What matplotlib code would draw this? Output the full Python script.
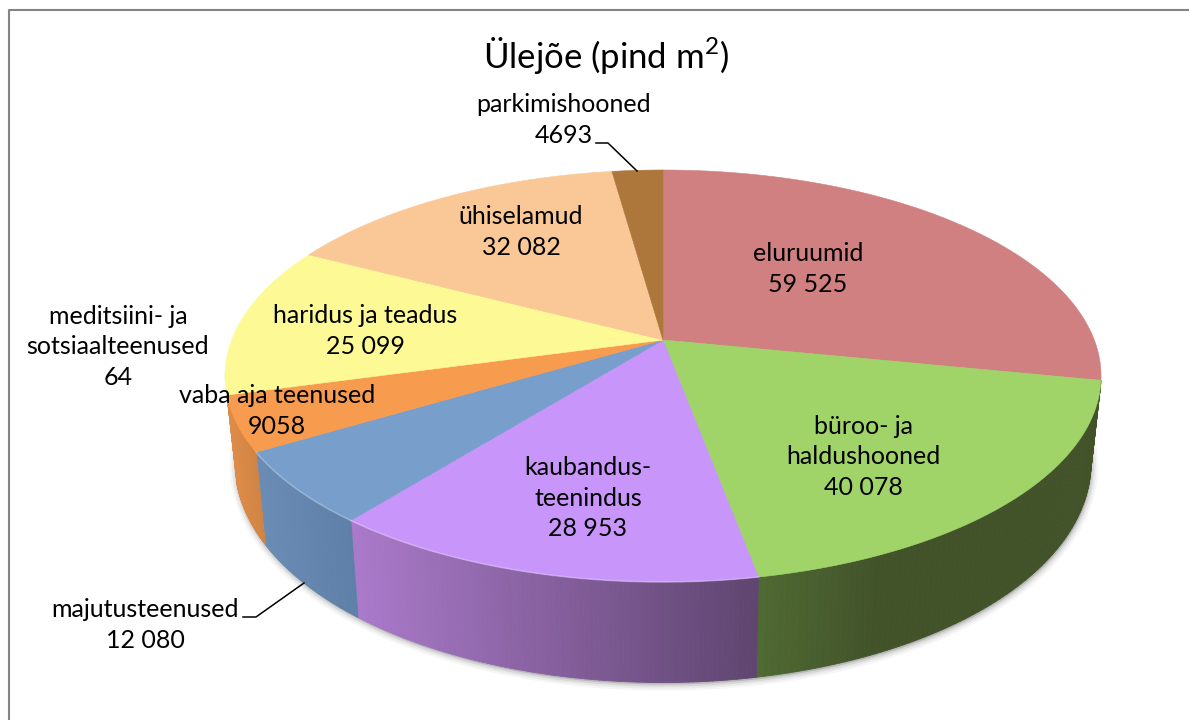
import matplotlib
matplotlib.use("Agg")
import matplotlib.pyplot as plt
from matplotlib.collections import PolyCollection
from matplotlib.colors import to_rgb
import numpy as np

plt.rcParams['font.family'] = ['Lato', 'DejaVu Sans']
plt.rcParams['mathtext.fontset'] = 'custom'
plt.rcParams['mathtext.rm'] = 'Lato'

# andmed, viilud kellaosuti suunas alates kella 12-st
kategooriad = ["eluruumid", "büroo- ja\nhaldushooned", "kaubandus-\nteenindus",
               "majutusteenused", "vaba aja teenused",
               "meditsiini- ja\nsotsiaalteenused", "haridus ja teadus",
               "ühiselamud", "parkimishooned"]
vaartused = [59525, 40078, 28953, 12080, 9058, 64, 25099, 32082, 4693]
vaartuse_tekst = ["59 525", "40 078", "28 953", "12 080", "9058", "64",
                  "25 099", "32 082", "4693"]
pealkiri = "Ülejõe (pind m$^2$)"

varvid_peal = ["#D08080", "#A0D468", "#C896FA", "#789ECB", "#F79C4F",
               "#F79C4F", "#FDFA96", "#FAC896", "#AD763A"]
# kulje gradient vasakult paremale ja selle kiirus, None = kulge ei paista
varvid_kulg = [None,
               ("#506B33", "#42532A", 0.35),
               ("#AB7ACB", "#5F4570", 1.0),
               ("#6A8CB5", "#5E80A8", 1.0),
               ("#DE8C48", "#D08445", 1.0),
               None, None, None, None]

# sildi keskpunkt (px)
sildi_koht = [(808, 269), (863, 457), (588, 498), (145, 625), (277, 411),
              (118, 347), (365, 331), (521, 232), (564, 120)]

cx, cy = 663, 340
A, B, k = 199.7, 431.3, 0.1748


def peal(t):
    X, Y = np.sin(t), np.cos(t)
    d = 1 + k * Y
    return cx + B * X / d, cy - A * Y / d


def all_serv(t):
    x, y = peal(t)
    return cx + 0.977 * (x - cx), y + 84 - 16.5 * np.cos(t)


fig = plt.figure(figsize=(11.89, 7.2), dpi=100)
ax = fig.add_axes([0, 0, 1, 1])
ax.set_xlim(0, 1189)
ax.set_ylim(720, 0)
ax.axis('off')

# raam, paremal serva ei ole
ax.plot([9, 9, 1189], [720, 10, 10], color='#848484', lw=1.5, zorder=1)

osa = np.cumsum([0] + vaartused) / sum(vaartused)
nurgad = 2 * np.pi * osa

# vari
tt = np.linspace(0, 2 * np.pi, 300)
bx, by = all_serv(tt)
for lw, al in [(9, 0.05), (6, 0.08), (3, 0.14)]:
    ax.fill(bx + 1, by + 2, fc='#606060', ec='#606060', lw=lw, alpha=al, zorder=2)

# kuljed
for i in range(len(vaartused)):
    if varvid_kulg[i] is None:
        continue
    c1, c2, p = varvid_kulg[i]
    c1, c2 = np.array(to_rgb(c1)), np.array(to_rgb(c2))
    t = np.linspace(nurgad[i], nurgad[i + 1], 90)
    xt, yt = peal(t)
    xb, yb = all_serv(t)
    rib = [[(xt[j], yt[j]), (xt[j + 1], yt[j + 1]), (xb[j + 1], yb[j + 1]), (xb[j], yb[j])]
           for j in range(len(t) - 1)]
    f = (xt[:-1] - xt.min()) / (xt.max() - xt.min())
    cols = [c1 + (c2 - c1) * min(v / p, 1.0) for v in f]
    ax.add_collection(PolyCollection(rib, facecolors=cols, edgecolors=cols, linewidths=0.6, zorder=3))

# pealmine pind
for i in range(len(vaartused)):
    t = np.linspace(nurgad[i], nurgad[i + 1], 120)
    xs, ys = peal(t)
    ax.fill(np.r_[cx, xs], np.r_[cy, ys], fc=varvid_peal[i], ec=varvid_peal[i], lw=0.4, zorder=4)
    if i in (2, 3):
        ax.plot(xs, ys, color='white', alpha=0.25, lw=1.2, zorder=5)

# juhtjooned
ax.plot([596, 608, 637], [143, 143, 171], color='black', lw=1.1, zorder=6)
ax.plot([243, 256, 304], [617, 617, 583], color='black', lw=1.1, zorder=6)

# sildid
for nimi, v, (x, y) in zip(kategooriad, vaartuse_tekst, sildi_koht):
    ax.text(x, y, nimi + "\n" + v, ha='center', va='center', fontsize=18,
            linespacing=1.38, color='black', zorder=7)

ax.text(606, 56, pealkiri, ha='center', va='center', fontsize=25, color='black', zorder=7)

fig.savefig("out.png", dpi=100)
